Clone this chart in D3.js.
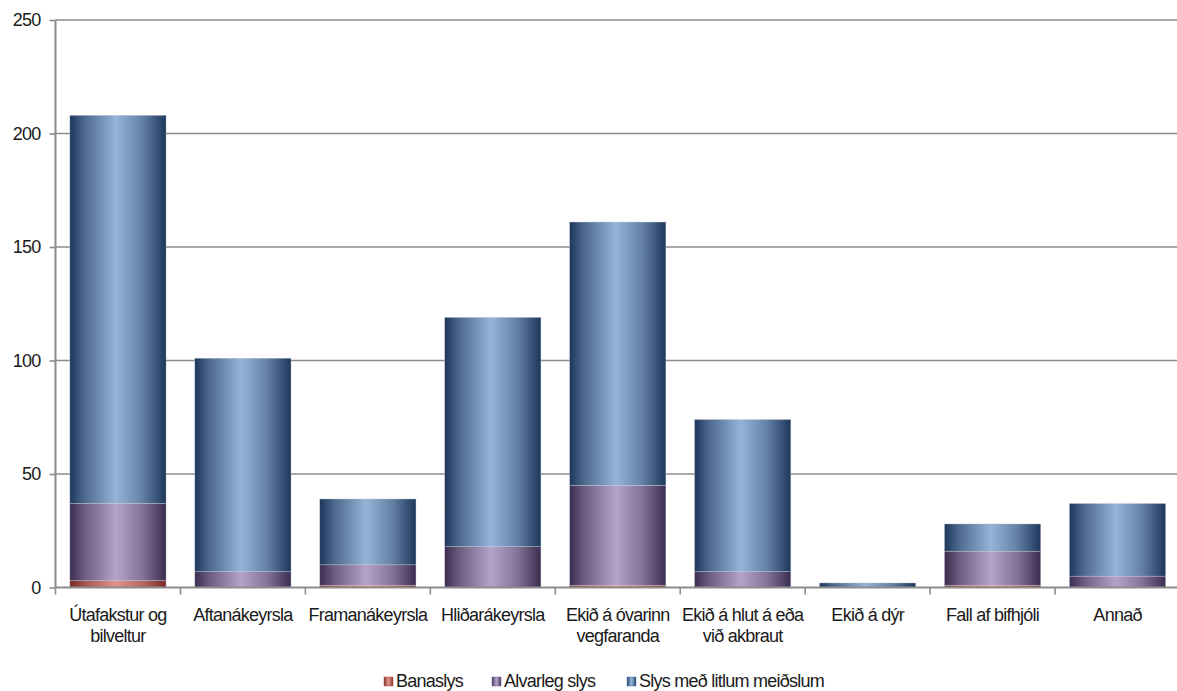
<!DOCTYPE html>
<html><head><meta charset="utf-8">
<script src="https://cdn.jsdelivr.net/npm/d3@7"></script>
<style>
body{margin:0;background:#fff;}
text{font-family:"Liberation Sans",Arial,sans-serif;fill:#1a1a1a;}
</style></head>
<body>
<svg id="c" width="1177" height="691"></svg>
<script>
const categories = [["Útafakstur og","bilveltur"],["Aftanákeyrsla"],["Framanákeyrsla"],["Hliðarákeyrsla"],["Ekið á óvarinn","vegfaranda"],["Ekið á hlut á eða","við akbraut"],["Ekið á dýr"],["Fall af bifhjóli"],["Annað"]];
const seriesNames = ["Banaslys","Alvarleg slys","Slys með litlum meiðslum"];
const banaslys = [3,0,1,0,1,0,0,1,0];
const alvarleg = [34,7,9,18,44,7,0,15,5];
const litlum   = [171,94,29,101,116,67,2,12,32];
const yTicks = [0,50,100,150,200,250];

const svg = d3.select("#c");
const m = {l:55.5, r:-3, t:20, b:103.5};
const W = 1177, H = 691;
const x = d3.scaleBand().domain(d3.range(categories.length)).range([m.l, W - m.r]).paddingInner(0.23).paddingOuter(0.115);
const y = d3.scaleLinear().domain([0,250]).range([H - m.b, m.t]);
const FS = 18, LS = "-0.75";

const defs = svg.append("defs");
const grads = [
  {id:"gR", dark:"#7a2a27", light:"#e0928b"},
  {id:"gP", dark:"#3b2d50", light:"#b5a3c9"},
  {id:"gB", dark:"#1d375b", light:"#95b4d8"}
];
grads.forEach(g=>{
  const lg = defs.append("linearGradient").attr("id",g.id).attr("x1","0").attr("x2","1").attr("y1","0").attr("y2","0");
  [[0,g.dark],[0.15,d3.interpolateRgb(g.dark,g.light)(0.4)],[0.48,g.light],[0.75,d3.interpolateRgb(g.dark,g.light)(0.6)],[1,g.dark]].forEach(s=>lg.append("stop").attr("offset",s[0]).attr("stop-color",s[1]));
});

// gridlines
svg.append("g").selectAll("line").data(yTicks.filter(d=>d>0)).join("line")
  .attr("x1",m.l).attr("x2",W).attr("y1",d=>y(d)).attr("y2",d=>y(d))
  .attr("stroke","#8c8c8c").attr("stroke-width",1.6);

// stacked bars
const data = categories.map((c,i)=>({i, Banaslys:banaslys[i], "Alvarleg slys":alvarleg[i], "Slys með litlum meiðslum":litlum[i]}));
const stack = d3.stack().keys(seriesNames)(data);
const fills = ["url(#gR)","url(#gP)","url(#gB)"];
svg.append("g").selectAll("g").data(stack).join("g").attr("fill",(d,i)=>fills[i])
  .selectAll("rect").data(d=>d).join("rect")
  .attr("x",d=>x(d.data.i)).attr("width",x.bandwidth())
  .attr("y",d=>y(d[1])).attr("height",d=>Math.max(0,y(d[0])-y(d[1])))
  .attr("stroke","rgba(200,205,215,0.6)").attr("stroke-width",0.6);

// y axis
const ya = svg.append("g").attr("transform",`translate(${m.l},0)`)
  .call(d3.axisLeft(y).tickValues(yTicks).tickSize(6).tickPadding(9));
ya.select(".domain").attr("stroke","#8c8c8c").attr("stroke-width",2).attr("d",`M0,${y(0)}V${y(250)}`);
ya.selectAll(".tick line").attr("stroke","#8c8c8c").attr("stroke-width",1.6);
ya.selectAll(".tick text").attr("font-size",FS).attr("font-family","Liberation Sans, Arial, sans-serif").attr("fill","#1a1a1a").attr("letter-spacing",LS);

// x axis
const xa = svg.append("g").attr("transform",`translate(0,${y(0)})`);
xa.append("line").attr("x1",m.l).attr("x2",W).attr("stroke","#8c8c8c").attr("stroke-width",2);
const step = (W - m.r - m.l)/categories.length;
xa.selectAll(".xt").data(d3.range(categories.length+1)).join("line").attr("class","xt")
  .attr("x1",i=>m.l+i*step).attr("x2",i=>m.l+i*step).attr("y1",0).attr("y2",7)
  .attr("stroke","#8c8c8c").attr("stroke-width",1.6);
const lab = xa.selectAll(".xl").data(categories).join("text").attr("class","xl")
  .attr("text-anchor","middle").attr("font-size",FS).attr("letter-spacing",LS)
  .attr("transform",(d,i)=>`translate(${x(i)+x.bandwidth()/2},33)`);
lab.selectAll("tspan").data(d=>d).join("tspan").attr("x",0).attr("dy",(d,j)=>j===0?0:"21").text(d=>d);

// legend
const legCols = ["#c0504d","#8064a2","#4f81bd"];
const legX = [384,492,627];
const lg = svg.append("g").attr("transform","translate(0,687)");
seriesNames.forEach((s,i)=>{
  const g = lg.append("g").attr("transform",`translate(${legX[i]},0)`);
  g.append("rect").attr("x",0).attr("y",-10).attr("width",9).attr("height",9).attr("fill",`url(#${grads[i].id})`).attr("stroke",legCols[i]).attr("stroke-width",0.5);
  g.append("text").attr("x",12).attr("y",0).attr("font-size",FS).attr("letter-spacing",LS).text(s);
});
</script>
</body></html>
